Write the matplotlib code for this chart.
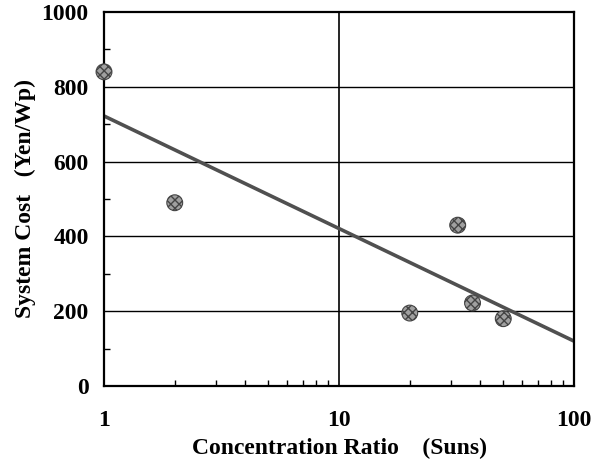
import matplotlib
matplotlib.use("Agg")
import matplotlib.pyplot as plt
import numpy as np

# measured points (concentration ratio, system cost)
ratio = [1, 2, 20, 32, 37, 50]
cost = [840, 490, 195, 430, 222, 180]

# fitted trend line end points
fit_x = [1, 100]
fit_y = [722, 120]

yticks = [0, 200, 400, 600, 800, 1000]
xticks = [1, 10, 100]

plt.rcParams["font.family"] = ["Liberation Serif", "DejaVu Serif"]
plt.rcParams["font.weight"] = "bold"

fig = plt.figure(figsize=(6.03, 4.69), dpi=100)
ax = fig.add_axes([104 / 603, 1 - 386 / 469, 470 / 603, 374 / 469])

ax.set_xscale("log")
ax.set_xlim(1, 100)
ax.set_ylim(0, 1000)

for y in yticks[1:-1]:
    ax.axhline(y, color="black", lw=1.0, zorder=1)
ax.axvline(10, color="black", lw=1.2, zorder=1)

ax.plot(fit_x, fit_y, color="#505050", lw=2.6, zorder=2)
ax.scatter(ratio, cost, s=130, facecolor="#a0a0a0", edgecolor="#444444",
           linewidth=0.8, hatch="xxxx", zorder=3, clip_on=False)

ax.set_yticks(yticks)
ax.set_yticks(np.arange(100, 1000, 200), minor=True)
ax.set_xticks(xticks)
ax.set_xticklabels([str(x) for x in xticks])
ax.tick_params(axis="both", which="both", direction="in", labelsize=17)
ax.tick_params(axis="x", which="major", length=0, pad=17)
ax.tick_params(axis="y", which="major", length=0, pad=11)
ax.tick_params(axis="both", which="minor", length=4, width=1)
for lab in ax.get_xticklabels() + ax.get_yticklabels():
    lab.set_fontweight("bold")

for sp in ax.spines.values():
    sp.set_linewidth(1.6)

ax.set_xlabel("Concentration Ratio    (Suns)", fontsize=17, fontweight="bold",
              labelpad=5)
ax.set_ylabel("System Cost   (Yen/Wp)", fontsize=17, fontweight="bold",
              labelpad=4)

fig.savefig("out.png", dpi=100)
